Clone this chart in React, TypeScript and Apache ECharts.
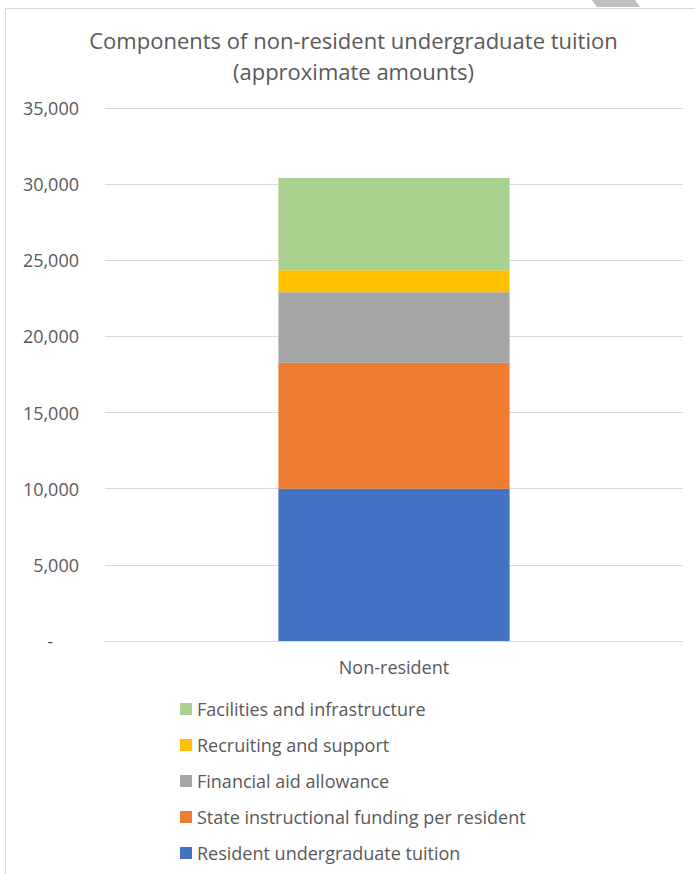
import React, { useEffect, useRef } from "react";
import * as echarts from "echarts";

const categories = ["Non-resident"];
const seriesNames = [
  "Resident undergraduate tuition",
  "State instructional funding per resident",
  "Financial aid allowance",
  "Recruiting and support",
  "Facilities and infrastructure",
];
const residentTuition = [10000];
const stateFunding = [8270];
const financialAid = [4630];
const recruiting = [1450];
const facilities = [6050];
const seriesColors = ["#4472C4", "#ED7D31", "#A5A5A5", "#FFC000", "#A9D18E"];
const yTicks = { min: 0, max: 35000, interval: 5000 };
const titleLines = [
  "Components of non-resident undergraduate tuition",
  "(approximate amounts)",
];

const FONT = "'Open Sans', 'Noto Sans', sans-serif";
const TEXT = "#595959";

export default function App() {
  const ref = useRef<HTMLDivElement>(null);
  useEffect(() => {
    if (!ref.current) return;
    const chart = echarts.init(ref.current, undefined, { renderer: "svg" });
    const values = [residentTuition, stateFunding, financialAid, recruiting, facilities];
    chart.setOption({
      animation: false,
      backgroundColor: "#ffffff",
      textStyle: { fontFamily: FONT },
      grid: { left: 105, right: 12, top: 108, bottom: 233, containLabel: false },
      xAxis: {
        type: "category",
        data: categories,
        axisTick: { show: false },
        axisLine: { lineStyle: { color: "#d9d9d9", width: 1 } },
        axisLabel: { color: TEXT, fontSize: 18, fontFamily: FONT, margin: 17 },
      },
      yAxis: {
        type: "value",
        min: yTicks.min,
        max: yTicks.max,
        interval: yTicks.interval,
        axisLine: { show: false },
        axisTick: { show: false },
        splitLine: { lineStyle: { color: "#d9d9d9", width: 1 } },
        axisLabel: {
          color: TEXT,
          fontSize: 18,
          fontFamily: FONT,
          margin: 26,
          formatter: (v: number) =>
            v === 0 ? "{d|-}" : v.toLocaleString("en-US"),
          rich: { d: { color: TEXT, fontSize: 18, fontFamily: FONT, padding: [0, 26, 0, 0] } },
        },
      },
      legend: {
        orient: "vertical",
        left: 175,
        top: 694,
        itemWidth: 12,
        itemHeight: 12,
        itemGap: 16,
        icon: "rect",
        data: [...seriesNames].reverse(),
        textStyle: { color: TEXT, fontSize: 18, fontFamily: FONT, lineHeight: 20 },
      },
      series: seriesNames.map((name, i) => ({
        name,
        type: "bar",
        stack: "total",
        barWidth: "40%",
        data: values[i],
        itemStyle: { color: seriesColors[i] },
      })),
      graphic: [
        ...titleLines.map((t, i) => ({
          type: "text",
          x: 353.5,
          y: 40 + i * 31,
          silent: true,
          style: {
            text: t,
            fill: TEXT,
            fontSize: 22,
            fontFamily: FONT,
            textAlign: "center",
            textVerticalAlign: "middle",
          },
        })),
        {
          type: "line",
          shape: { x1: 5.5, y1: 8.5, x2: 695, y2: 8.5 },
          style: { stroke: "#d9d9d9", lineWidth: 1 },
          silent: true,
        },
        {
          type: "line",
          shape: { x1: 5.5, y1: 8.5, x2: 5.5, y2: 874 },
          style: { stroke: "#d9d9d9", lineWidth: 1 },
          silent: true,
        },
        {
          type: "polygon",
          shape: { points: [[592, 0], [635, 0], [640, 7], [597, 7]] },
          style: { fill: "#bfbfbf" },
          silent: true,
        },
      ],
    });
    return () => chart.dispose();
  }, []);
  return (
    <div
      ref={ref}
      style={{ width: 695, height: 874, position: "absolute", left: 0, top: 0 }}
    />
  );
}
